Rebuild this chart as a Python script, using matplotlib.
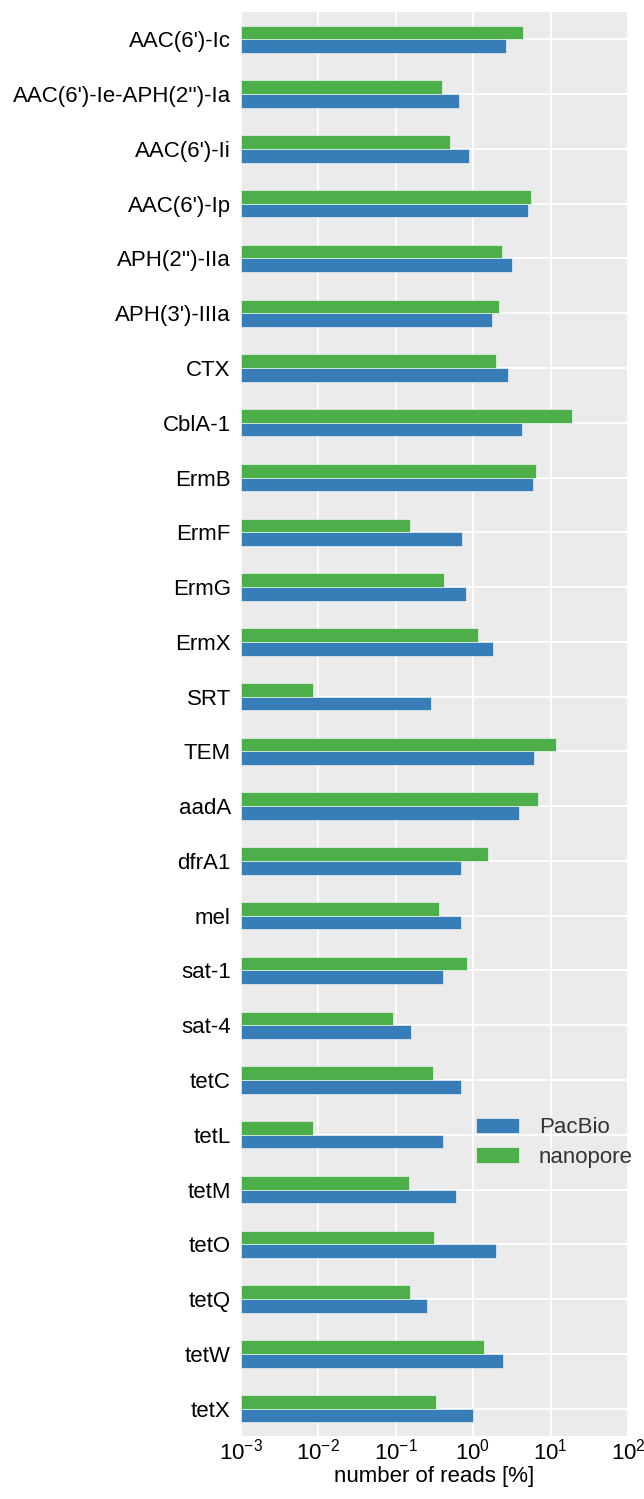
import numpy as np
import matplotlib
matplotlib.use("Agg")
import matplotlib.pyplot as plt

genes = ["AAC(6')-Ic", "AAC(6')-Ie-APH(2'')-Ia", "AAC(6')-Ii", "AAC(6')-Ip",
         "APH(2'')-IIa", "APH(3')-IIIa", "CTX", "CblA-1", "ErmB", "ErmF",
         "ErmG", "ErmX", "SRT", "TEM", "aadA", "dfrA1", "mel", "sat-1",
         "sat-4", "tetC", "tetL", "tetM", "tetO", "tetQ", "tetW", "tetX"]
pacbio = [2.68, 0.65, 0.88, 5.17, 3.14, 1.76, 2.83, 4.33, 6.0, 0.73,
          0.80, 1.83, 0.29, 6.17, 3.92, 0.70, 0.70, 0.41, 0.159, 0.70,
          0.41, 0.61, 1.98, 0.255, 2.42, 1.0]
nanopore = [4.37, 0.394, 0.51, 5.57, 2.37, 2.17, 1.96, 19.0, 6.42, 0.154,
            0.42, 1.15, 0.0076, 11.9, 6.8, 1.58, 0.36, 0.84, 0.092, 0.30,
            0.0076, 0.147, 0.31, 0.154, 1.38, 0.328]

plt.rcParams['font.family'] = ['Liberation Sans', 'DejaVu Sans']

fig = plt.figure(figsize=(6.44, 14.99), dpi=100)
ax = fig.add_axes([240.5/644, 63/1499, 387.5/644, 1424/1499])
ax.set_facecolor('#EBEBEB')

n = len(genes)
pos = np.arange(n)[::-1]
h = 0.25
ax.barh(pos - h/2, pacbio, height=h, left=1e-3, color='#377eb8',
        edgecolor='white', linewidth=0.4, label='PacBio', zorder=2)
ax.barh(pos + h/2, nanopore, height=h, left=1e-3, color='#4daf4a',
        edgecolor='white', linewidth=0.4, label='nanopore', zorder=2)

ax.set_xscale('log')
ax.set_xlim(1e-3, 1e2)
ax.set_ylim(-0.5, n - 0.5)
ax.set_yticks(pos)
ax.set_yticklabels(genes)
ax.minorticks_off()
ax.grid(True, color='white', linewidth=1.3, zorder=0)
ax.set_axisbelow(True)
ax.tick_params(length=0, labelsize=16, colors='black')
ax.tick_params(axis='y', pad=7)
ax.tick_params(axis='x', pad=2)
for s in ax.spines.values():
    s.set_visible(False)
ax.set_xlabel('number of reads [%]', fontsize=16, labelpad=1)

leg = ax.legend(loc='center left', bbox_to_anchor=(0.555, 0.206), frameon=False,
                fontsize=16, handlelength=1.95, handleheight=0.7,
                labelspacing=0.39, handletextpad=0.9)
for t in leg.get_texts():
    t.set_color('#333333')

fig.savefig('out.png', dpi=100)
